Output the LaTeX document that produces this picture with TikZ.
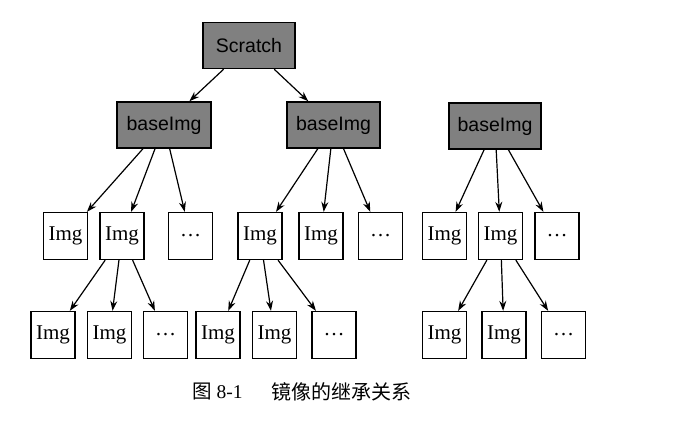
\documentclass[tikz,border=0pt]{standalone}
\usepackage{fontspec}
\setmainfont{Liberation Serif}
\newfontfamily\sansf{Liberation Sans}
\newfontfamily\cjk{Noto Sans CJK SC}
\usetikzlibrary{arrows.meta}
\begin{document}
\begin{tikzpicture}[x=1pt,y=-1pt,
  basebox/.style={draw=black,line width=1.5pt,fill=black!50,inner sep=0pt,
    minimum width=92pt,minimum height=46pt,font=\sansf\fontsize{19.5}{21}\selectfont},
  imgbox/.style={draw=black,line width=1.3pt,fill=white,inner sep=0pt,
    minimum width=44pt,minimum height=47pt,font=\fontsize{21}{23}\selectfont},
  edge/.style={-{Stealth[length=10pt,width=7pt]},line width=1.2pt}]
\fill[white] (0,0) rectangle (687,420);
\useasboundingbox (0,0) rectangle (687,420);
% top level
\node[basebox] (S) at (249,45.5) {Scratch};
\node[basebox,minimum width=94pt] (B1) at (164,125) {baseImg};
\node[basebox,minimum width=93pt] (B2) at (333.5,125) {baseImg};
\node[basebox] (B3) at (495,126) {baseImg};
% row 2
\node[imgbox] (a1) at (65.5,236) {Img};
\node[imgbox] (a2) at (122,236) {Img};
\node[imgbox] (a3) at (190.5,236) {\ldots};
\node[imgbox] (b1) at (260,236) {Img};
\node[imgbox] (b2) at (321,236) {Img};
\node[imgbox] (b3) at (380.5,236) {\ldots};
\node[imgbox] (c1) at (444.5,236) {Img};
\node[imgbox] (c2) at (500.5,236) {Img};
\node[imgbox] (c3) at (557,236) {\ldots};
% row 3
\node[imgbox] (d1) at (53,335) {Img};
\node[imgbox] (d2) at (109.5,335) {Img};
\node[imgbox] (d3) at (165.5,335) {\ldots};
\node[imgbox] (e1) at (218,335) {Img};
\node[imgbox] (e2) at (274.5,335) {Img};
\node[imgbox] (e3) at (334,335) {\ldots};
\node[imgbox] (f1) at (444.5,335) {Img};
\node[imgbox] (f2) at (504,335) {Img};
\node[imgbox] (f3) at (563.5,335) {\ldots};
% edges
\foreach \p/\c in {S/B1,S/B2,B1/a1,B1/a2,B1/a3,B2/b1,B2/b2,B2/b3,B3/c1,B3/c2,B3/c3,
  a2/d1,a2/d2,a2/d3,b1/e1,b1/e2,b1/e3,c2/f1,c2/f2,c2/f3}
  \draw[edge] (\p) -- (\c);
% caption
\node[anchor=west,inner sep=0pt,font=\fontsize{19.5}{21}\selectfont] (cap1) at (192,392) {{\cjk 图}\hspace{5pt}8-1};
\node[anchor=west,inner sep=0pt,font=\cjk\fontsize{20}{21}\selectfont] (cap2) at (271,392) {镜像的继承关系};
\end{tikzpicture}
\end{document}
